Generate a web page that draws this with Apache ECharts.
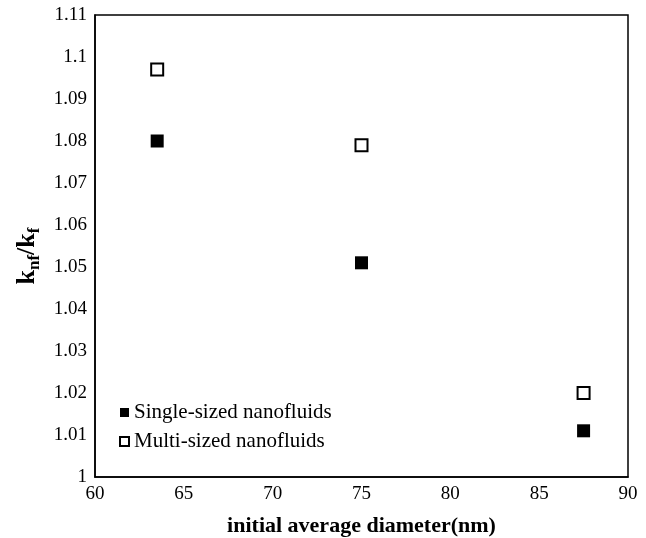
<!DOCTYPE html>
<html>
<head>
<meta charset="utf-8">
<script src="https://cdn.jsdelivr.net/npm/echarts@6/dist/echarts.min.js"></script>
<style>
  html, body { margin: 0; padding: 0; background: #fff; }
  #main { width: 646px; height: 538px; }
</style>
</head>
<body>
<div id="main"></div>
<script>
// initial average diameter (nm) vs k_nf/k_f
var diameters = [63.5, 75, 87.5];
var singleSized = [1.080, 1.051, 1.011];
var multiSized = [1.097, 1.079, 1.020];

function pairs(xs, ys) {
    return xs.map(function (x, i) { return [x, ys[i]]; });
}

var serif = '"Liberation Serif", "DejaVu Serif", serif';

var myChart = echarts.init(document.getElementById('main'));
var option = {
    animation: false,
    backgroundColor: '#fff',
    grid: {
        left: 95,
        right: 18,
        top: 15,
        bottom: 61,
        outerBoundsMode: 'none',
        containLabel: false,
        show: true,
        borderColor: '#000',
        borderWidth: 1.5
    },
    legend: {
        orient: 'vertical',
        left: 114,
        top: 397,
        itemWidth: 9,
        itemHeight: 9,
        itemGap: 8,
        icon: 'rect',
        textStyle: {
            fontFamily: serif,
            fontSize: 21,
            color: '#000'
        },
        data: ['Single-sized nanofluids', 'Multi-sized nanofluids']
    },
    xAxis: {
        type: 'value',
        min: 60,
        max: 90,
        interval: 5,
        name: 'initial average diameter(nm)',
        nameLocation: 'middle',
        nameGap: 38,
        nameTextStyle: {
            fontFamily: serif,
            fontSize: 22,
            fontWeight: 'bold',
            color: '#000'
        },
        axisLine: { show: true, lineStyle: { color: '#000', width: 1.5 } },
        axisTick: { show: false },
        splitLine: { show: false },
        axisLabel: {
            margin: 8,
            fontFamily: serif,
            fontSize: 19,
            color: '#000'
        }
    },
    yAxis: {
        type: 'value',
        min: 1,
        max: 1.11,
        interval: 0.01,
        name: '{a|k}{b|nf}{a|/k}{b|f}',
        nameLocation: 'middle',
        nameGap: 52,
        nameTextStyle: {
            color: '#000',
            padding: [0, 20, 0, 0],
            rich: {
                a: { fontFamily: serif, fontSize: 26, fontWeight: 'bold', color: '#000', lineHeight: 32, verticalAlign: 'middle' },
                b: { fontFamily: serif, fontSize: 17, fontWeight: 'bold', color: '#000', lineHeight: 32, verticalAlign: 'bottom', padding: [9, 0, 0, 0] }
            }
        },
        axisLine: { show: true, lineStyle: { color: '#000', width: 1.5 } },
        axisTick: { show: false },
        splitLine: { show: false },
        axisLabel: {
            margin: 8,
            fontFamily: serif,
            fontSize: 19,
            color: '#000',
            formatter: function (v) { return String(+v.toFixed(2)); }
        }
    },
    series: [
        {
            name: 'Single-sized nanofluids',
            type: 'scatter',
            symbol: 'rect',
            symbolSize: 13,
            itemStyle: { color: '#000', opacity: 1 },
            data: pairs(diameters, singleSized)
        },
        {
            name: 'Multi-sized nanofluids',
            type: 'scatter',
            symbol: 'rect',
            symbolSize: 12,
            itemStyle: { color: '#fff', borderColor: '#000', borderWidth: 2, opacity: 1 },
            data: pairs(diameters, multiSized)
        }
    ]
};
myChart.setOption(option);
</script>
</body>
</html>
